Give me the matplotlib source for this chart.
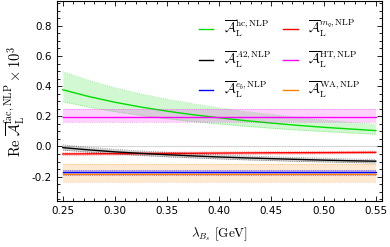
import numpy as np
import matplotlib
matplotlib.use("Agg")
import matplotlib.pyplot as plt
from matplotlib.ticker import MultipleLocator

plt.rcParams['mathtext.fontset'] = 'cm'

lam = [0.25, 0.275, 0.30, 0.325, 0.35, 0.375, 0.40, 0.425, 0.45, 0.475, 0.50, 0.525, 0.55]

hc_mid = [0.376, 0.331, 0.293, 0.261, 0.234, 0.210, 0.190, 0.171, 0.155, 0.140, 0.127, 0.116, 0.105]
hc_hi = [0.496, 0.438, 0.389, 0.348, 0.313, 0.283, 0.256, 0.232, 0.212, 0.193, 0.176, 0.161, 0.147]
hc_lo = [0.297, 0.261, 0.231, 0.206, 0.184, 0.165, 0.149, 0.134, 0.121, 0.109, 0.099, 0.090, 0.081]

a2_mid = [-0.008, -0.023, -0.036, -0.046, -0.055, -0.063, -0.070, -0.076, -0.081, -0.086, -0.091, -0.095, -0.098]
a2_hi = [0.010, -0.006, -0.019, -0.030, -0.039, -0.048, -0.056, -0.062, -0.068, -0.073, -0.078, -0.083, -0.086]
a2_lo = [-0.024, -0.038, -0.050, -0.060, -0.069, -0.076, -0.083, -0.089, -0.094, -0.099, -0.103, -0.107, -0.110]

mq_mid = [-0.050, -0.049, -0.048, -0.047, -0.046, -0.045, -0.044, -0.043, -0.042, -0.0415, -0.041, -0.040, -0.039]
mq_hi = [-0.042, -0.041, -0.040, -0.039, -0.038, -0.037, -0.036, -0.035, -0.034, -0.0335, -0.033, -0.032, -0.031]
mq_lo = [-0.058, -0.057, -0.056, -0.055, -0.054, -0.053, -0.052, -0.051, -0.050, -0.0495, -0.049, -0.048, -0.047]

# flat contributions: (central, lower, upper)
ht_vals = (0.198, 0.160, 0.250)
eb_vals = (-0.172, -0.192, -0.159)
wa_vals = (-0.180, -0.233, -0.118)

labels = [
    r'$\overline{\mathcal{A}}_{\mathrm{L}}^{\mathrm{hc,NLP}}$',
    r'$\overline{\mathcal{A}}_{\mathrm{L}}^{m_q\mathrm{,NLP}}$',
    r'$\overline{\mathcal{A}}_{\mathrm{L}}^{A2\mathrm{,NLP}}$',
    r'$\overline{\mathcal{A}}_{\mathrm{L}}^{\mathrm{HT,NLP}}$',
    r'$\overline{\mathcal{A}}_{\mathrm{L}}^{e_b\mathrm{,NLP}}$',
    r'$\overline{\mathcal{A}}_{\mathrm{L}}^{\mathrm{WA,NLP}}$',
]
colors = ['#00dd00', '#ff0000', '#000000', '#ff00ff', '#0000ff', '#ff8000']


def band(ax, x, mid, lo, hi, color, label):
    ax.fill_between(x, lo, hi, color=color, alpha=0.18, lw=0)
    ax.plot(x, lo, color=color, lw=0.6, ls=':', alpha=0.5)
    ax.plot(x, hi, color=color, lw=0.6, ls=':', alpha=0.5)
    return ax.plot(x, mid, color=color, lw=1.0, label=label)[0]


fig = plt.figure(figsize=(3.9, 2.47), dpi=100)
ax = fig.add_axes([0.145, 0.1875, 0.8345, 0.8085])

ax.axhline(0, color='#d8d8d8', lw=0.8, zorder=0)

ends = [lam[0], lam[-1]]
h = {}
h['hc'] = band(ax, lam, hc_mid, hc_lo, hc_hi, colors[0], labels[0])
h['mq'] = band(ax, lam, mq_mid, mq_lo, mq_hi, colors[1], labels[1])
h['a2'] = band(ax, lam, a2_mid, a2_lo, a2_hi, colors[2], labels[2])
h['ht'] = band(ax, ends, [ht_vals[0]] * 2, [ht_vals[1]] * 2, [ht_vals[2]] * 2, colors[3], labels[3])
h['wa'] = band(ax, ends, [wa_vals[0]] * 2, [wa_vals[1]] * 2, [wa_vals[2]] * 2, colors[5], labels[5])
h['eb'] = band(ax, ends, [eb_vals[0]] * 2, [eb_vals[1]] * 2, [eb_vals[2]] * 2, colors[4], labels[4])

order = ['hc', 'a2', 'eb', 'mq', 'ht', 'wa']
ax.legend([h[k] for k in order], [h[k].get_label() for k in order],
          ncol=2, loc='upper right', bbox_to_anchor=(0.97, 0.975),
          frameon=False, fontsize=9.5, handlelength=1.1, handletextpad=0.8,
          labelspacing=0.75, columnspacing=0.9)

ax.set_xlim(0.244, 0.556)
ax.set_ylim(-0.36, 0.965)
ax.xaxis.set_major_locator(MultipleLocator(0.05))
ax.xaxis.set_minor_locator(MultipleLocator(0.01))
ax.yaxis.set_major_locator(MultipleLocator(0.2))
ax.yaxis.set_minor_locator(MultipleLocator(0.05))
ax.xaxis.set_major_formatter(plt.FuncFormatter(lambda v, p: f'{v:.2f}'))
ax.yaxis.set_major_formatter(plt.FuncFormatter(lambda v, p: f'{v:.1f}'))
ax.tick_params(which='both', direction='in', top=True, right=True, labelsize=7.5, width=0.6)
ax.tick_params(which='major', length=3.5)
ax.tick_params(which='minor', length=2)
for s in ax.spines.values():
    s.set_linewidth(0.8)

ax.set_xlabel(r'$\lambda_{B_s}\ [\mathrm{GeV}]$', fontsize=9.5, labelpad=7)
ax.set_ylabel(r'$\mathrm{Re}\ \overline{\mathcal{A}}_{\mathrm{L}}^{\mathrm{fac,NLP}}\times 10^3$',
              fontsize=10.5, labelpad=3)

fig.savefig('out.png', dpi=100)
